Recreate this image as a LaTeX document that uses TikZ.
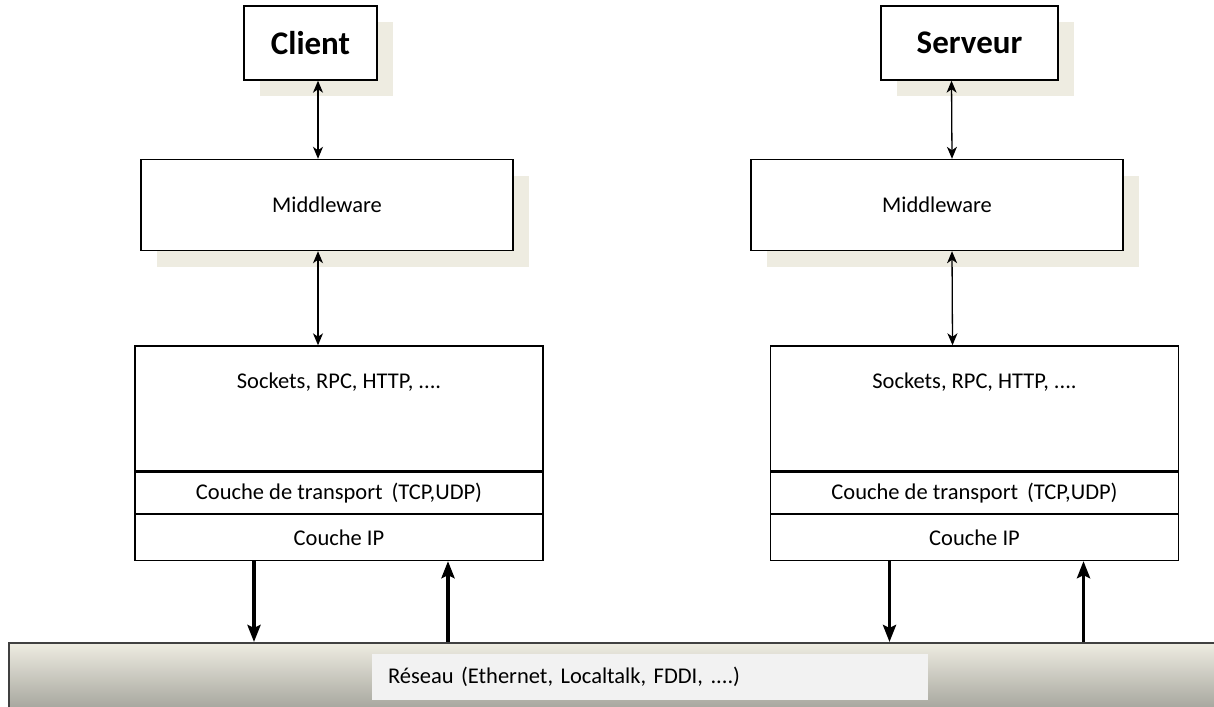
\documentclass[tikz,border=0pt]{standalone}
\usepackage{fontspec}
\setmainfont{Carlito}
\usetikzlibrary{positioning,calc,shadows,arrows.meta}

\definecolor{shadowbeige}{RGB}{238,236,225}
\definecolor{netborder}{RGB}{64,64,64}
\definecolor{nettop}{RGB}{238,236,225}
\definecolor{netmid}{RGB}{210,209,200}
\definecolor{netbottom}{RGB}{166,166,158}
\definecolor{labelgray}{RGB}{242,242,242}

\begin{document}
\begin{tikzpicture}[x=1pt,y=-1pt,
  box/.style={draw, line width=1.4pt, fill=white, inner sep=0pt},
  shadowed/.style={drop shadow={shadow xshift=16pt, shadow yshift=-16pt, fill=shadowbeige, opacity=1}},
  title/.style={font=\bfseries\fontsize{33}{38}\selectfont},
  txt/.style={font=\fontsize{22.5}{27}\selectfont},
  layer/.style={box, txt, line width=1.2pt, minimum width=408pt},
  link/.style={{Stealth[length=12pt,width=10pt,inset=3.5pt]}-{Stealth[length=12pt,width=10pt,inset=3.5pt]}, line width=1.3pt},
  flow/.style={-{Stealth[length=17pt,width=13pt,inset=3pt]}, line width=3.5pt}
]
\useasboundingbox (0,0) rectangle (1214,706);

% Network bar
\node[draw=netborder, line width=2pt, top color=nettop, middle color=netmid, bottom color=netbottom,
      minimum width=1215pt, minimum height=66pt, inner sep=0pt] (net) at (616.5,676) {};
\node[fill=labelgray, txt, text width=524pt, inner xsep=16pt, inner ysep=0pt, align=left,
      minimum height=46pt] (netlabel) at (650,677) {Réseau (Ethernet, Localtalk, FDDI, ....)};

% Top boxes
\node[box, shadowed, title, minimum width=133pt, minimum height=74pt] (client) at (310.5,43) {Client};
\node[box, shadowed, title, minimum width=177pt, minimum height=74pt] (server) at (969.5,43) {Serveur};

% Middleware
\node[box, shadowed, txt, minimum width=372pt, minimum height=91pt] (midL) at (327,205) {Middleware};
\node[box, shadowed, txt, minimum width=372pt, minimum height=91pt] (midR) at (937,205) {Middleware};

% Client stack
\node[box, minimum width=408pt, minimum height=125pt] (sockL) at (339,408.5) {};
\node[txt] (sockLtxt) at ($(sockL.north)+(0,37)$) {Sockets, RPC, HTTP, ....};
\node[layer, minimum height=41pt, below=0pt of sockL] (transL) {Couche de transport~\,(TCP,UDP)};
\node[layer, minimum height=46pt, below=0pt of transL] (ipL) {Couche IP};

% Server stack
\node[box, minimum width=408pt, minimum height=125pt] (sockR) at (974.5,408.5) {};
\node[txt] (sockRtxt) at ($(sockR.north)+(0,37)$) {Sockets, RPC, HTTP, ....};
\node[layer, minimum height=41pt, below=0pt of sockR] (transR) {Couche de transport~\,(TCP,UDP)};
\node[layer, minimum height=46pt, below=0pt of transR] (ipR) {Couche IP};

% Links
\draw[link] ([xshift=7.5pt]client.south) -- ([xshift=-9pt]midL.north);
\draw[link] ([xshift=-9pt]midL.south) -- ([xshift=-21pt]sockL.north);
\draw[link] ([xshift=-18pt]server.south) -- ([xshift=15pt]midR.north);
\draw[link] ([xshift=15pt]midR.south) -- ([xshift=-22pt]sockR.north);

% To and from the network
\draw[flow] ([xshift=-85pt]ipL.south) -- ([xshift=-85pt]ipL.south |- net.north);
\draw[flow] ([xshift=109pt]ipL.south |- net.north) -- ([xshift=109pt]ipL.south);
\draw[flow] ([xshift=-85pt]ipR.south) -- ([xshift=-85pt]ipR.south |- net.north);
\draw[flow] ([xshift=109pt]ipR.south |- net.north) -- ([xshift=109pt]ipR.south);

\end{tikzpicture}
\end{document}
